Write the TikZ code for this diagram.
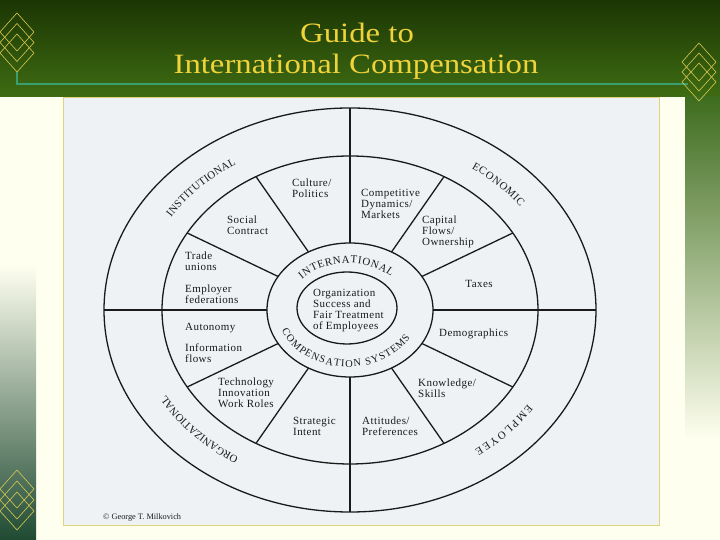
\documentclass[tikz,border=0pt]{standalone}
\usepackage{fontspec}
\usepackage{graphicx}
\setmainfont{Liberation Serif}
\newfontfamily\lblfont[LetterSpace=4]{Liberation Serif}
\usetikzlibrary{decorations.text}
\definecolor{bartop}{HTML}{1C3604}
\definecolor{barbot}{HTML}{3E6C12}
\definecolor{cream}{HTML}{FFFFF0}
\definecolor{panel}{HTML}{EEF2F5}
\definecolor{panelborder}{HTML}{E2D27A}
\definecolor{titleyellow}{HTML}{F0D23A}
\definecolor{tealline}{HTML}{3A9E6E}
\definecolor{gold}{HTML}{D9C850}
\definecolor{ink}{HTML}{1A1A1A}
\definecolor{stripgreen}{HTML}{1F4A32}
\definecolor{rightgreen}{HTML}{3E6C1E}
\newcommand\ringfont{\fontsize{10.8}{10.8}\selectfont}
\newcommand\smallringfont{\fontsize{10.8}{10.8}\selectfont}
\newcommand\compringfont{\fontsize{10.4}{10.4}\selectfont}
\newcommand\titlestretch[1]{\scalebox{1.17}[1]{#1}}
\begin{document}
\begin{tikzpicture}[x=1pt,y=1pt,
  ring/.style={draw=ink, line width=1.3pt},
  lbl/.style={anchor=base west, align=left, inner sep=0pt, font=\lblfont\fontsize{11}{11}\selectfont, text=ink},
  diam/.style={draw=gold, line width=0.6pt},
  titletext/.style={anchor=base, inner sep=0pt, text=titleyellow, font=\fontsize{28}{28}\selectfont},
  ringtext/.style={decorate, decoration={text along path, text align=fit to path, text color=ink, text={|\ringfont|#1}}},
  smallringtext/.style={decorate, decoration={text along path, text align=fit to path, text color=ink, text={|\smallringfont|#1}}},
  compringtext/.style={decorate, decoration={text along path, text align=fit to path, text color=ink, text={|\compringfont|#1}}}
]
\useasboundingbox (0,0) rectangle (720,540);
% background
\fill[cream] (0,0) rectangle (720,540);
\shade[top color=bartop, bottom color=barbot] (0,443) rectangle (720,540);
\shade[top color=cream, bottom color=stripgreen] (0,0) rectangle (36,275);
\shade[top color=rightgreen, bottom color=cream] (685,100) rectangle (720,443.5);
% rule line
\draw[tealline, line width=1.5pt] (17,468) -- (17,456) -- (688,456);
% diamonds
\foreach \x/\y in {17/508, 17/497.5, 17/487, 699/478, 699/468, 699/458, 17/51, 17/40, 17/29}
  \draw[diam] (\x,\y+19) -- (\x+17,\y) -- (\x,\y-19) -- (\x-17,\y) -- cycle;
% title
\node[titletext] (t1) at (357,497) {\titlestretch{Guide to}};
\node[titletext] (t2) at (356,466) {\titlestretch{International Compensation}};
% panel
\draw[panelborder, fill=panel, line width=0.8pt] (63,15) rectangle (659,443);
% ellipses
\draw[ring] (350,230) ellipse [x radius=246, y radius=202];
\draw[ring] (350,230) ellipse [x radius=188, y radius=154];
\draw[ring] (350,230) ellipse [x radius=83, y radius=67];
\draw[ring] (347,232) ellipse [x radius=50, y radius=36];
% spokes
\foreach \a in {0,90,180,270}
  \draw[ring] ({350+83*cos(\a)},{230+67*sin(\a)}) -- ({350+246*cos(\a)},{230+202*sin(\a)});
\foreach \a in {30,60,120,150,210,240,300,330}
  \draw[ring] ({350+83*cos(\a)},{230+67*sin(\a)}) -- ({350+188*cos(\a)},{230+154*sin(\a)});
% ring labels
\path[ringtext=INSTITUTIONAL] ({350+212*cos(147.5)},{230+173*sin(147.5)}) arc[start angle=147.5, end angle=122.5, x radius=212, y radius=173];
\path[ringtext=ECONOMIC] ({350+212*cos(55)},{230+173*sin(55)}) arc[start angle=55, end angle=36.5, x radius=212, y radius=173];
\path[ringtext=ORGANIZATIONAL] ({350+212*cos(238.3)},{230+173*sin(238.3)}) arc[start angle=238.3, end angle=209.8, x radius=212, y radius=173];
\path[ringtext=EMPLOYEE] ({350+212*cos(327)},{230+173*sin(327)}) arc[start angle=327, end angle=306, x radius=212, y radius=173];
\path[smallringtext=INTERNATIONAL] ({348+61*cos(139)},{230+47*sin(139)}) arc[start angle=139, end angle=45, x radius=61, y radius=47];
\path[compringtext=COMPENSATION SYSTEMS] ({348+71*cos(201)},{230+57*sin(201)}) arc[start angle=201, end angle=331, x radius=71, y radius=57];
% factor labels (anchor = baseline of last line)
\node[lbl] (culture) at (292,342) {Culture/\\Politics};
\node[lbl] (social) at (227,305.5) {Social\\Contract};
\node[lbl] (competitive) at (361,321.5) {Competitive\\Dynamics/\\Markets};
\node[lbl] (capital) at (422,294.5) {Capital\\Flows/\\Ownership};
\node[lbl] (trade) at (185,269.5) {Trade\\unions};
\node[lbl] (employer) at (185,236.5) {Employer\\federations};
\node[lbl] (autonomy) at (185,209.5) {Autonomy};
\node[lbl] (information) at (185,177.5) {Information\\flows};
\node[lbl] (technology) at (218,132.5) {Technology\\Innovation\\Work Roles};
\node[lbl] (strategic) at (293,104.5) {Strategic\\Intent};
\node[lbl] (attitudes) at (362,104.5) {Attitudes/\\Preferences};
\node[lbl] (knowledge) at (418,142.5) {Knowledge/\\Skills};
\node[lbl, anchor=base] (taxes) at (479,252.5) {Taxes};
\node[lbl] (demographics) at (439,203.5) {Demographics};
\node[lbl] (org) at (313,210.5) {Organization\\Success and\\Fair Treatment\\of Employees};
\node[lbl, font=\fontsize{8.3}{8.3}\selectfont] (copy) at (103,20) {© George T. Milkovich};
\end{tikzpicture}
\end{document}
